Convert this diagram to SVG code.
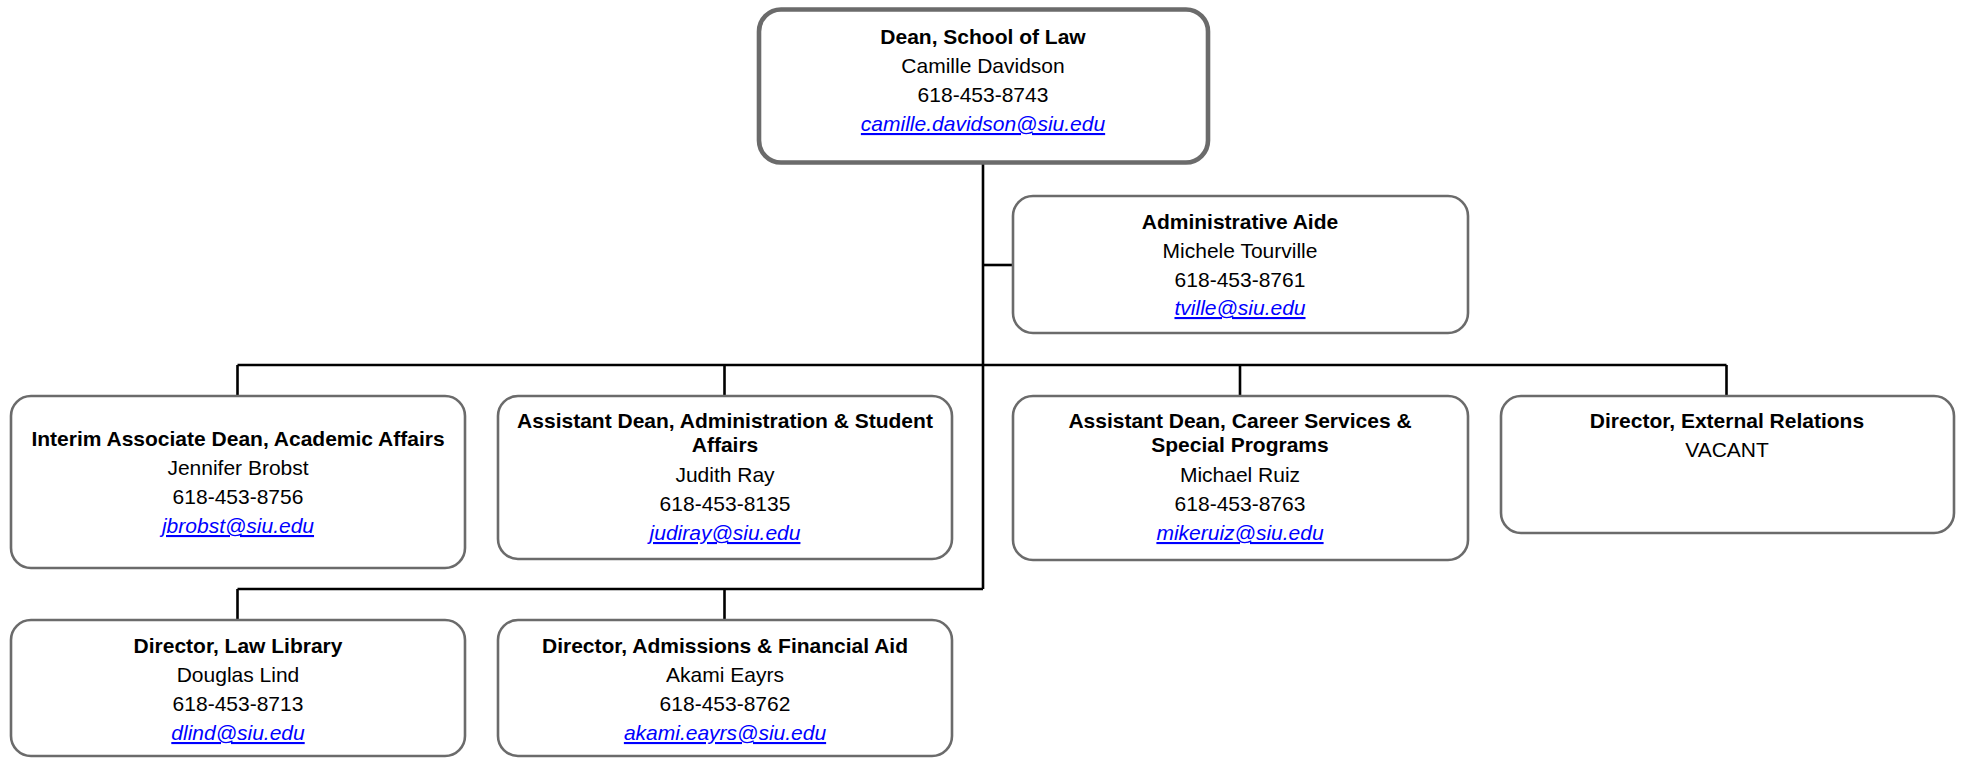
<svg xmlns="http://www.w3.org/2000/svg" width="1961" height="758" viewBox="0 0 1961 758">
<style>
.box{fill:#ffffff;stroke:#6b6b6b;stroke-width:2.6}
.dean{fill:#ffffff;stroke:#6b6b6b;stroke-width:4.6}
.conn{fill:none;stroke:#000000;stroke-width:2.6}
text{font-family:"Liberation Sans",Arial,sans-serif;font-size:21px;fill:#000000;text-anchor:middle}
.t{font-weight:bold}
.e{fill:#0000ff;font-style:italic;text-decoration:underline}
</style>
<rect width="1961" height="758" fill="#ffffff"/>
<g id="connectors">
<path class="conn" d="M983 163 V589"/>
<path class="conn" d="M983 265 H1013"/>
<path class="conn" d="M237.5 365 H1726.5"/>
<path class="conn" d="M237.5 365 V396 M724.5 365 V396 M1240 365 V396 M1726.5 365 V396"/>
<path class="conn" d="M237.5 589 H983"/>
<path class="conn" d="M237.5 589 V620 M724.5 589 V620"/>
</g>
<g id="dean">
<rect class="dean" x="759" y="9.5" width="449" height="153" rx="22"/>
<text class="t" x="983" y="44">Dean, School of Law</text>
<text x="983" y="73">Camille Davidson</text>
<text x="983" y="102">618-453-8743</text>
<text class="e" x="983" y="131">camille.davidson@siu.edu</text>
</g>
<g id="admin-aide">
<rect class="box" x="1013" y="196" width="455" height="137" rx="20"/>
<text class="t" x="1240" y="229">Administrative Aide</text>
<text x="1240" y="258">Michele Tourville</text>
<text x="1240" y="287">618-453-8761</text>
<text class="e" x="1240" y="315">tville@siu.edu</text>
</g>
<g id="assoc-dean">
<rect class="box" x="11" y="396" width="454" height="172" rx="20"/>
<text class="t" x="238" y="446">Interim Associate Dean, Academic Affairs</text>
<text x="238" y="475">Jennifer Brobst</text>
<text x="238" y="504">618-453-8756</text>
<text class="e" x="238" y="533">jbrobst@siu.edu</text>
</g>
<g id="asst-dean-admin">
<rect class="box" x="498" y="396" width="454" height="163" rx="20"/>
<text class="t" x="725" y="428">Assistant Dean, Administration &amp; Student</text>
<text class="t" x="725" y="452">Affairs</text>
<text x="725" y="482">Judith Ray</text>
<text x="725" y="511">618-453-8135</text>
<text class="e" x="725" y="540">judiray@siu.edu</text>
</g>
<g id="asst-dean-career">
<rect class="box" x="1013" y="396" width="455" height="164" rx="20"/>
<text class="t" x="1240" y="428">Assistant Dean, Career Services &amp;</text>
<text class="t" x="1240" y="452">Special Programs</text>
<text x="1240" y="482">Michael Ruiz</text>
<text x="1240" y="511">618-453-8763</text>
<text class="e" x="1240" y="540">mikeruiz@siu.edu</text>
</g>
<g id="external-relations">
<rect class="box" x="1501" y="396" width="453" height="137" rx="20"/>
<text class="t" x="1727" y="428">Director, External Relations</text>
<text x="1727" y="457">VACANT</text>
</g>
<g id="law-library">
<rect class="box" x="11" y="620" width="454" height="136" rx="20"/>
<text class="t" x="238" y="653">Director, Law Library</text>
<text x="238" y="682">Douglas Lind</text>
<text x="238" y="711">618-453-8713</text>
<text class="e" x="238" y="740">dlind@siu.edu</text>
</g>
<g id="admissions">
<rect class="box" x="498" y="620" width="454" height="136" rx="20"/>
<text class="t" x="725" y="653">Director, Admissions &amp; Financial Aid</text>
<text x="725" y="682">Akami Eayrs</text>
<text x="725" y="711">618-453-8762</text>
<text class="e" x="725" y="740">akami.eayrs@siu.edu</text>
</g>
</svg>
